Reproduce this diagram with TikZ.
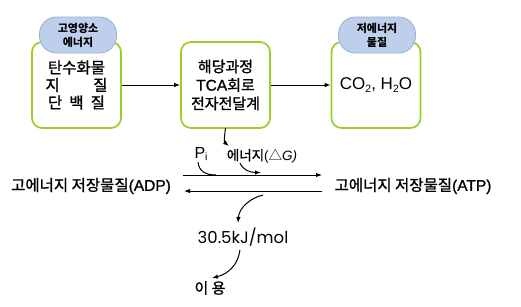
\documentclass[tikz,border=0pt]{standalone}
\usepackage{fontspec}
\setmainfont{Liberation Sans}
\newfontfamily\kr{Noto Sans CJK KR}
\newfontfamily\krm[FakeBold=1.2]{Noto Sans CJK KR}
\newfontfamily\latm[FakeBold=1]{Liberation Sans}
\newfontfamily\geo{Poppins}
\usetikzlibrary{arrows.meta}
\definecolor{boxgreen}{RGB}{154,205,40}
\definecolor{tagfill}{RGB}{190,207,235}
\definecolor{tagdraw}{RGB}{150,175,212}
\newcommand\lowsub[1]{\raisebox{-0.3ex}{\fontsize{10.5}{11}\selectfont #1}}
\begin{document}
\begin{tikzpicture}[x=1pt,y=-1pt,
  procbox/.style={draw=boxgreen, line width=1.7pt, rounded corners=10pt,
    minimum width=89pt, minimum height=86pt, fill=white, align=center, inner sep=0pt},
  tagbox/.style={draw=tagdraw, line width=0.8pt, fill=tagfill, rounded corners=17pt,
    minimum width=77pt, minimum height=36pt, align=center, inner sep=0pt,
    font=\kr\bfseries\fontsize{11}{14}\selectfont},
  lbl/.style={inner sep=0pt, anchor=center},
  conn/.style={line width=1pt, -{Latex[length=6pt,width=4.5pt]}},
  plain/.style={line width=1pt}]
\useasboundingbox (0,0) rectangle (521,306);
% boxes
\node[procbox, font=\krm\fontsize{15.5}{17.5}\selectfont] (b1) at (76.5,85)
  {탄수화물\\\makebox[62pt][s]{지\hfill 질}\\\makebox[57pt][s]{단\hfill 백\hfill 질}};
\node[procbox, font=\krm\fontsize{15}{18.5}\selectfont] (b2) at (225.5,85)
  {해당과정\\{\latm\fontsize{15.5}{18}\selectfont TCA}회로\\전자전달계};
\node[procbox, font=\fontsize{17}{20}\selectfont] (b3) at (376,85)
  {CO\lowsub{2}, H\lowsub{2}O};
% tags
\node[tagbox] (t1) at (78,35) {고영양소\\에너지};
\node[tagbox] (t3) at (377,35) {저에너지\\물질};
% arrows between boxes
\draw[conn] (b1.east) -- (b2.west);
\draw[conn] (b2.east) -- (b3.west);
% labels
\node[lbl, font=\fontsize{16}{18}\selectfont] (pi) at (201,154) {P\lowsub{i}};
\node[lbl, font=\krm\fontsize{13.5}{16}\selectfont] (en) at (262,156)
  {에너지{\normalfont(}{\kr△}{\normalfont\itshape G)}};
\node[lbl, font=\krm\fontsize{15.5}{18}\selectfont] (adp) at (91,186)
  {고에너지 저장물질{\latm(ADP)}};
\node[lbl, font=\krm\fontsize{15.5}{18}\selectfont] (atp) at (413,186)
  {고에너지 저장물질{\latm(ATP)}};
\node[lbl, font=\geo\fontsize{16.5}{18}\selectfont] (kj) at (243,237) {30.5kJ/mol};
\node[lbl, font=\krm\fontsize{15}{18}\selectfont] (use) at (210,288) {이 용};
% coordinates
\coordinate (ta) at (183,175);
\coordinate (tb) at (322,175);
\coordinate (ba) at (322,191);
\coordinate (bb) at (184,191);
\coordinate (c1s) at (225.5,128);
\coordinate (c1e) at (229,146);
\coordinate (c2s) at (198,162);
\coordinate (c2e) at (216,175);
\coordinate (c3s) at (240,163);
\coordinate (c3e) at (261,172.5);
\coordinate (c4s) at (263,195);
\coordinate (c4e) at (238,223);
\coordinate (c5s) at (240,250);
\coordinate (c5e) at (212,278);
% reaction arrows
\draw[conn] (ta) -- (tb);
\draw[conn] (ba) -- (bb);
\draw[conn] (c1s) .. controls (224,140) and (224,142) .. (c1e);
\draw[plain] (c2s) .. controls (199,171) and (205,175) .. (c2e);
\draw[conn] (c3s) .. controls (243,170) and (250,172.5) .. (c3e);
\draw[conn] (c4s) .. controls (250,198) and (239,208) .. (c4e);
\draw[conn] (c5s) .. controls (238,265) and (228,274) .. (c5e);
\end{tikzpicture}
\end{document}
